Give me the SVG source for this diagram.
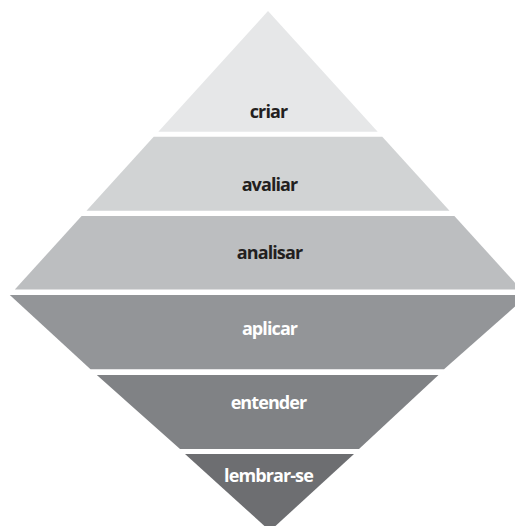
<svg xmlns="http://www.w3.org/2000/svg" width="515" height="526" viewBox="0 0 515 526">
  <style>
    .lbl { font-family: "Open Sans", "Liberation Sans", sans-serif; font-weight: 700; font-size: 18px; letter-spacing: -0.9px; text-anchor: middle; }
    .dark { fill: #231f20; }
    .light { fill: #ffffff; }
  </style>
  <rect width="515" height="526" fill="#ffffff"/>

  <!-- upper half: apex at (268,11) -->
  <g id="criar">
    <polygon points="268,11 377.7,131.7 158.3,131.7" fill="#e6e7e8"/>
    <text class="lbl dark" x="268.5" y="117.5">criar</text>
  </g>
  <g id="avaliar">
    <polygon points="153.7,136.7 382.3,136.7 449.5,210.7 86.5,210.7" fill="#d1d3d4"/>
    <text class="lbl dark" x="269.5" y="190.5">avaliar</text>
  </g>
  <g id="analisar">
    <polygon points="81.6,216 454.4,216 521.2,289.5 14.8,289.5" fill="#bcbec0"/>
    <text class="lbl dark" x="269.5" y="259">analisar</text>
  </g>

  <!-- lower half: apex near (270,531) -->
  <g id="aplicar">
    <polygon points="9.8,295 528,295 444,369.3 90.5,369.3" fill="#939598"/>
    <text class="lbl light" x="269.5" y="335">aplicar</text>
  </g>
  <g id="entender">
    <polygon points="96.8,375 438.5,375 359,449 180,449" fill="#808285"/>
    <text class="lbl light" x="268.5" y="408.5">entender</text>
  </g>
  <g id="lembrar-se">
    <polygon points="185,454 354,454 270,531" fill="#6d6e71"/>
    <text class="lbl light" x="268.5" y="481.5">lembrar-se</text>
  </g>
</svg>
